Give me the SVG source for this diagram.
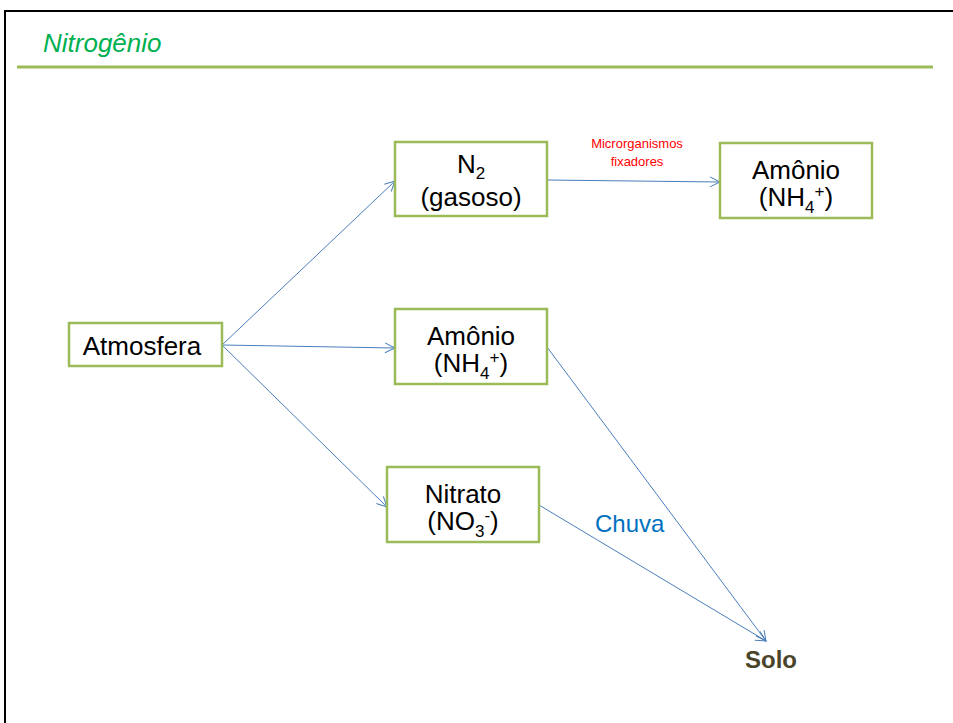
<svg xmlns="http://www.w3.org/2000/svg" width="953" height="723" viewBox="0 0 953 723">
<style>
.box{fill:#fff;stroke:#9BBB59;stroke-width:2.5}
.t{font-family:"Liberation Sans",Arial,sans-serif;font-size:26px;fill:#000;text-anchor:middle}
.sub{font-size:17px}
.c{stroke:#4A7EBB;stroke-width:1;fill:none;marker-end:url(#ah)}
</style>
<defs>
<marker id="ah" markerWidth="12" markerHeight="12" refX="11" refY="6" orient="auto" markerUnits="userSpaceOnUse">
<path d="M1,1 L11,6 L1,11" fill="none" stroke="#4A7EBB" stroke-width="1"/>
</marker>
</defs>
<rect width="953" height="723" fill="#fff"/>
<path d="M5,723 V11 H953" fill="none" stroke="#000" stroke-width="2"/>
<line x1="17" y1="67" x2="933" y2="67" stroke="#9BBB59" stroke-width="3"/>
<text x="43" y="52" font-family="Liberation Sans,Arial,sans-serif" font-style="italic" font-size="26" fill="#00B050">Nitrogênio</text>
<g id="connectors">
<line class="c" x1="222" y1="345" x2="395" y2="181"/>
<line class="c" x1="222" y1="345" x2="395" y2="348"/>
<line class="c" x1="222" y1="345" x2="387" y2="507"/>
<line class="c" x1="547" y1="180" x2="720" y2="182"/>
<line class="c" x1="547" y1="347" x2="766" y2="641"/>
<line class="c" x1="539" y1="505" x2="766" y2="641"/>
<text x="637" y="148" font-family="Liberation Sans,Arial,sans-serif" font-size="13" fill="#FF0000" text-anchor="middle">Microrganismos</text>
<text x="637" y="166" font-family="Liberation Sans,Arial,sans-serif" font-size="13" fill="#FF0000" text-anchor="middle">fixadores</text>
<text x="595" y="532" font-family="Liberation Sans,Arial,sans-serif" font-size="24" fill="#0070C0">Chuva</text>
</g>
<g id="n2">
<rect class="box" x="395" y="142" width="152" height="74"/>
<text class="t" x="471" y="173">N<tspan class="sub" dy="6">2</tspan></text>
<text class="t" x="471" y="206">(gasoso)</text>
</g>
<g id="amonio-top">
<rect class="box" x="720" y="143" width="152" height="75"/>
<text class="t" x="796" y="179">Amônio</text>
<text class="t" x="796" y="206">(NH<tspan class="sub" dy="7">4</tspan><tspan class="sub" dy="-16">+</tspan><tspan dy="9">)</tspan></text>
</g>
<g id="atmosfera">
<rect class="box" x="69" y="323" width="153" height="43"/>
<text class="t" x="142" y="355">Atmosfera</text>
</g>
<g id="amonio-mid">
<rect class="box" x="395" y="309" width="152" height="75"/>
<text class="t" x="471" y="345">Amônio</text>
<text class="t" x="471" y="372">(NH<tspan class="sub" dy="7">4</tspan><tspan class="sub" dy="-16">+</tspan><tspan dy="9">)</tspan></text>
</g>
<g id="nitrato">
<rect class="box" x="387" y="467" width="152" height="75"/>
<text class="t" x="463" y="503">Nitrato</text>
<text class="t" x="463" y="530">(NO<tspan class="sub" dy="7">3</tspan><tspan class="sub" dy="-16">-</tspan><tspan dy="9">)</tspan></text>
</g>
<g id="solo">
<text x="771" y="668" font-family="Liberation Sans,Arial,sans-serif" font-size="24" font-weight="bold" fill="#4A452A" text-anchor="middle">Solo</text>
</g>
</svg>
